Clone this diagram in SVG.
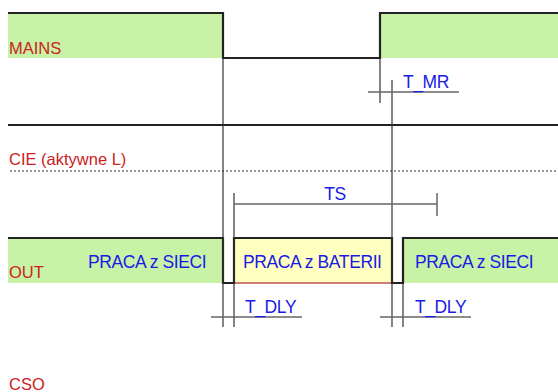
<svg xmlns="http://www.w3.org/2000/svg" width="558" height="392" viewBox="0 0 558 392">
<style>
.sig{fill:none;stroke:#222;stroke-width:2.2}
.guide{fill:none;stroke:#333;stroke-width:1.2}
.mark{fill:none;stroke:#666;stroke-width:1.5}
.green{fill:#c8f2a6}
.yellow{fill:#ffffc0}
.lbl{font-family:"Liberation Sans",Arial,sans-serif;font-size:16.5px;fill:#cc2222}
.blue{font-family:"Liberation Sans",Arial,sans-serif;font-size:17.5px;letter-spacing:-0.4px;fill:#1a1ae6}
</style>
<rect width="558" height="392" fill="#fff"/>
<g id="mains">
<rect class="green" x="8" y="13" width="215" height="45"/>
<rect class="green" x="380" y="13" width="178" height="45"/>
<polyline class="sig" points="8,13 223,13 223,58 380,58 380,13 558,13"/>
<text class="lbl" x="9" y="54">MAINS</text>
</g>
<g id="cie">
<line class="sig" x1="8" y1="125" x2="558" y2="125"/>
<line x1="10" y1="171" x2="558" y2="171" stroke="#777" stroke-width="1.5" stroke-dasharray="2,2"/>
<text class="lbl" x="9" y="165">CIE (aktywne L)</text>
</g>
<g id="out">
<rect class="green" x="8" y="238" width="215" height="45"/>
<rect class="yellow" x="234" y="238" width="158" height="45"/>
<rect class="green" x="403" y="238" width="155" height="45"/>
<line x1="234" y1="283" x2="392" y2="283" stroke="#c05050" stroke-width="1.5"/>
<polyline class="sig" points="8,238 223,238 223,283 234,283 234,238 392,238 392,283 403,283 403,238 558,238"/>
<text class="lbl" x="9" y="278">OUT</text>
<text class="blue" x="88" y="268">PRACA z SIECI</text>
<text class="blue" x="243" y="268">PRACA z BATERII</text>
<text class="blue" x="415" y="268">PRACA z SIECI</text>
</g>
<g id="cso">
<text class="lbl" x="9" y="390">CSO</text>
</g>
<g id="connectors">
<line class="guide" x1="223" y1="58" x2="223" y2="327"/>
<line class="guide" x1="234" y1="193" x2="234" y2="327"/>
<line class="guide" x1="380" y1="58" x2="380" y2="103"/>
<line class="guide" x1="392" y1="80" x2="392" y2="327"/>
<line class="guide" x1="403" y1="283" x2="403" y2="327"/>
<line class="mark" x1="368" y1="92" x2="459" y2="92"/>
<line class="mark" x1="234" y1="204" x2="437" y2="204"/>
<line class="mark" x1="437" y1="193" x2="437" y2="216"/>
<line class="mark" x1="211" y1="317" x2="302" y2="317"/>
<line class="mark" x1="380" y1="317" x2="471" y2="317"/>
</g>
<g id="labels">
<text class="blue" x="403" y="88">T_MR</text>
<text class="blue" x="335" y="200" text-anchor="middle">TS</text>
<text class="blue" x="245" y="313">T_DLY</text>
<text class="blue" x="415" y="313">T_DLY</text>
</g>
</svg>
